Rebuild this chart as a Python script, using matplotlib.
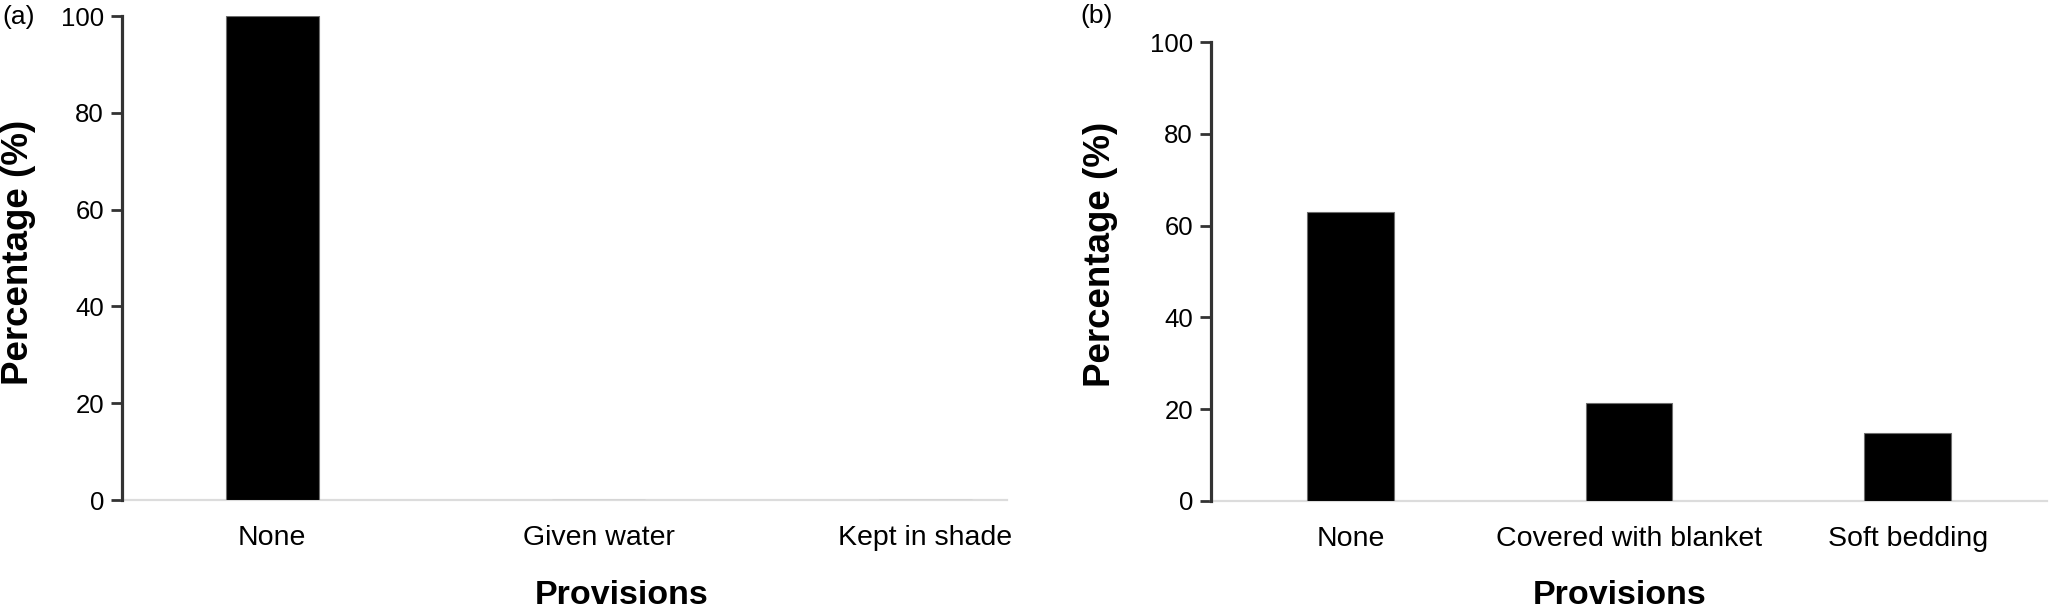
import matplotlib
matplotlib.use('Agg')
import matplotlib.pyplot as plt

plt.rcParams['font.family'] = ['Liberation Sans', 'DejaVu Sans']

# panel (a): heat provisions
cats_a = ['None', 'Given water', 'Kept in shade']
vals_a = [100, 0, 0]
# panel (b): cold provisions
cats_b = ['None', 'Covered with blanket', 'Soft bedding']
vals_b = [63.0, 21.4, 14.8]
yticks = [0, 20, 40, 60, 80, 100]

W, H = 2052, 607
fig = plt.figure(figsize=(W / 100, H / 100), dpi=100)


def px(x0, y0, x1, y1):
    """pixel box -> figure fraction rect"""
    return [x0 / W, 1 - y1 / H, (x1 - x0) / W, (y1 - y0) / H]


def style_axes(ax, cats, vals, width, xlim):
    ax.bar(range(len(cats)), vals, width=width, color='black',
           edgecolor='#6e6e6e', linewidth=0.8, zorder=3)
    ax.set_xlim(*xlim)
    ax.set_ylim(0, 100)
    ax.set_yticks(yticks)
    ax.set_xticks(range(len(cats)))
    ax.set_xticklabels(cats, fontsize=20.5)
    ax.tick_params(axis='y', labelsize=18.5, length=8, width=2.0,
                   color='#333333', pad=5)
    ax.tick_params(axis='x', length=0, pad=18)
    for s in ['top', 'right']:
        ax.spines[s].set_visible(False)
    ax.spines['left'].set_color('#333333')
    ax.spines['left'].set_linewidth(2.3)
    ax.spines['bottom'].set_color('#dcdcdc')
    ax.spines['bottom'].set_linewidth(1.6)
    ax.spines['left'].set_zorder(4)


ax1 = fig.add_axes(px(122, 16, 1007, 500))
style_axes(ax1, cats_a, vals_a, 0.285, (-0.46, 2.25))

ax2 = fig.add_axes(px(1211, 42, 2047, 501))
style_axes(ax2, cats_b, vals_b, 0.31, (-0.5, 2.5))

# panel letters
fig.text(2 / W, 1 - 17 / H, '(a)', fontsize=19, va='center', ha='left')
fig.text(1080 / W, 1 - 16 / H, '(b)', fontsize=19, va='center', ha='left')

# axis titles
fig.text(19 / W, 1 - 252 / H, 'Percentage (%)', fontsize=26.5, fontweight='bold',
         rotation=90, va='center', ha='center')
fig.text(1100 / W, 1 - 254 / H, 'Percentage (%)', fontsize=26.5, fontweight='bold',
         rotation=90, va='center', ha='center')
fig.text(622 / W, 1 - 604 / H, 'Provisions', fontsize=24.5, fontweight='bold',
         va='baseline', ha='center')
fig.text(1620 / W, 1 - 604 / H, 'Provisions', fontsize=24.5, fontweight='bold',
         va='baseline', ha='center')

fig.savefig('out.png', dpi=100)
